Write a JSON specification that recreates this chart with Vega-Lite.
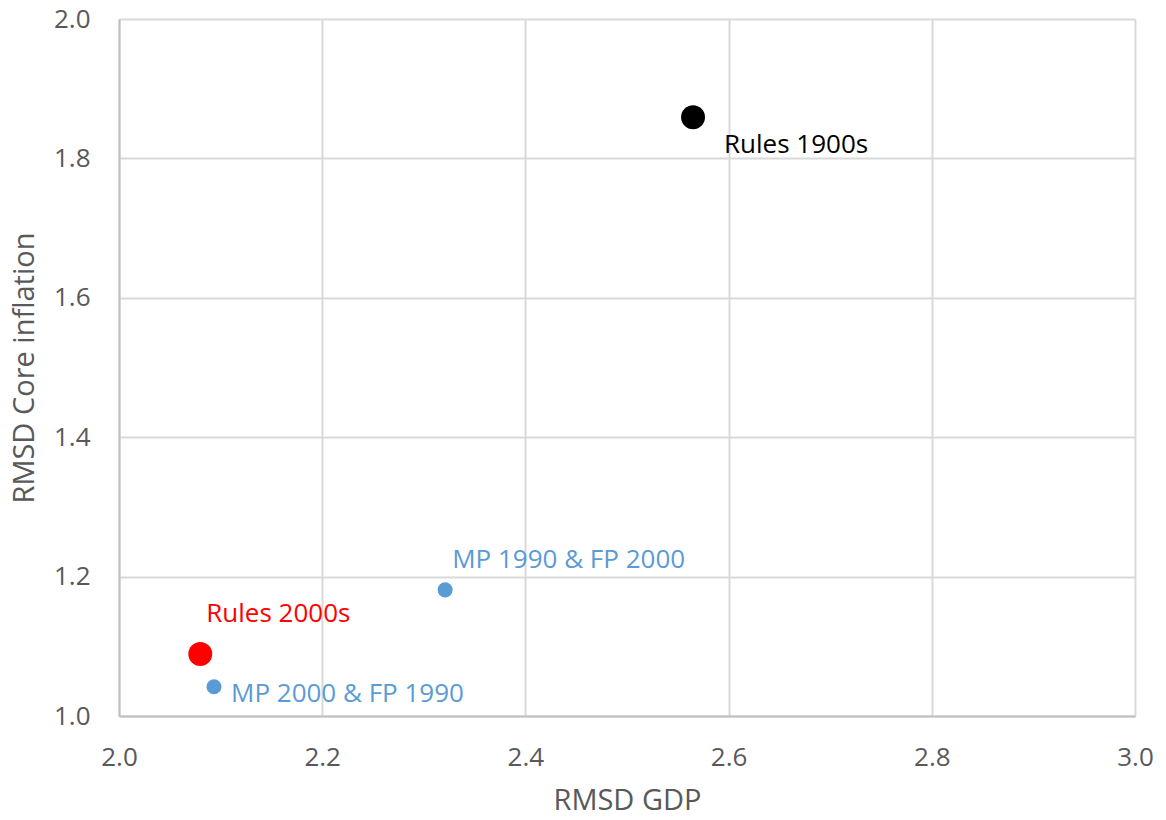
{
  "$schema": "https://vega.github.io/schema/vega-lite/v6.json",
  "width": 1016,
  "height": 697,
  "autosize": {"type": "none"},
  "padding": {"left": 119, "top": 19, "right": 31, "bottom": 104},
  "background": "#ffffff",
  "config": {
    "font": "Open Sans",
    "view": {"stroke": null},
    "axis": {
      "labelFont": "Open Sans",
      "titleFont": "Open Sans",
      "labelFontSize": 26,
      "titleFontSize": 29,
      "labelColor": "#595959",
      "titleColor": "#595959",
      "labelFontWeight": "normal",
      "titleFontWeight": "normal",
      "gridColor": "#d9d9d9",
      "gridWidth": 2,
      "domainColor": "#bfbfbf",
      "domainWidth": 2,
      "ticks": false
    }
  },
  "data": {
    "values": [
      {"series": "Rules 1900s", "gdp": 2.565, "infl": 1.859, "kind": "Rules"},
      {"series": "Rules 2000s", "gdp": 2.080, "infl": 1.089, "kind": "Rules"},
      {"series": "MP 1990 & FP 2000", "gdp": 2.321, "infl": 1.181, "kind": "Mixed"},
      {"series": "MP 2000 & FP 1990", "gdp": 2.0935, "infl": 1.042, "kind": "Mixed"}
    ]
  },
  "encoding": {
    "x": {
      "field": "gdp",
      "type": "quantitative",
      "scale": {"domain": [2.0, 3.0], "nice": false, "zero": false},
      "axis": {
        "title": "RMSD GDP",
        "values": [2.0, 2.2, 2.4, 2.6, 2.8, 3.0],
        "format": ".1f",
        "labelPadding": 28,
        "titlePadding": 16,
        "labelFlush": false
      }
    },
    "y": {
      "field": "infl",
      "type": "quantitative",
      "scale": {"domain": [1.0, 2.0], "nice": false, "zero": false},
      "axis": {
        "title": "RMSD Core inflation",
        "values": [1.0, 1.2, 1.4, 1.6, 1.8, 2.0],
        "format": ".1f",
        "labelPadding": 29,
        "titlePadding": 14,
        "labelFlush": false
      }
    },
    "color": {
      "field": "series",
      "type": "nominal",
      "legend": null,
      "scale": {
        "domain": ["Rules 1900s", "Rules 2000s", "MP 1990 & FP 2000", "MP 2000 & FP 1990"],
        "range": ["#000000", "#ff0000", "#5b9bd5", "#5b9bd5"]
      }
    }
  },
  "layer": [
    {
      "mark": {"type": "point", "filled": true, "opacity": 1, "shape": "circle"},
      "encoding": {
        "size": {
          "field": "kind",
          "type": "nominal",
          "legend": null,
          "scale": {"domain": ["Rules", "Mixed"], "range": [572, 227]}
        }
      }
    },
    {
      "transform": [{"filter": "datum.series === 'Rules 1900s'"}],
      "mark": {"type": "text", "align": "left", "baseline": "alphabetic", "dx": 31, "dy": 36, "fontSize": 26},
      "encoding": {"text": {"field": "series"}}
    },
    {
      "transform": [{"filter": "datum.series === 'Rules 2000s'"}],
      "mark": {"type": "text", "align": "left", "baseline": "alphabetic", "dx": 6, "dy": -32, "fontSize": 26},
      "encoding": {"text": {"field": "series"}}
    },
    {
      "transform": [{"filter": "datum.series === 'MP 1990 & FP 2000'"}],
      "mark": {"type": "text", "align": "left", "baseline": "alphabetic", "dx": 7, "dy": -22, "fontSize": 26},
      "encoding": {"text": {"field": "series"}}
    },
    {
      "transform": [{"filter": "datum.series === 'MP 2000 & FP 1990'"}],
      "mark": {"type": "text", "align": "left", "baseline": "alphabetic", "dx": 17, "dy": 15, "fontSize": 26},
      "encoding": {"text": {"field": "series"}}
    }
  ]
}
